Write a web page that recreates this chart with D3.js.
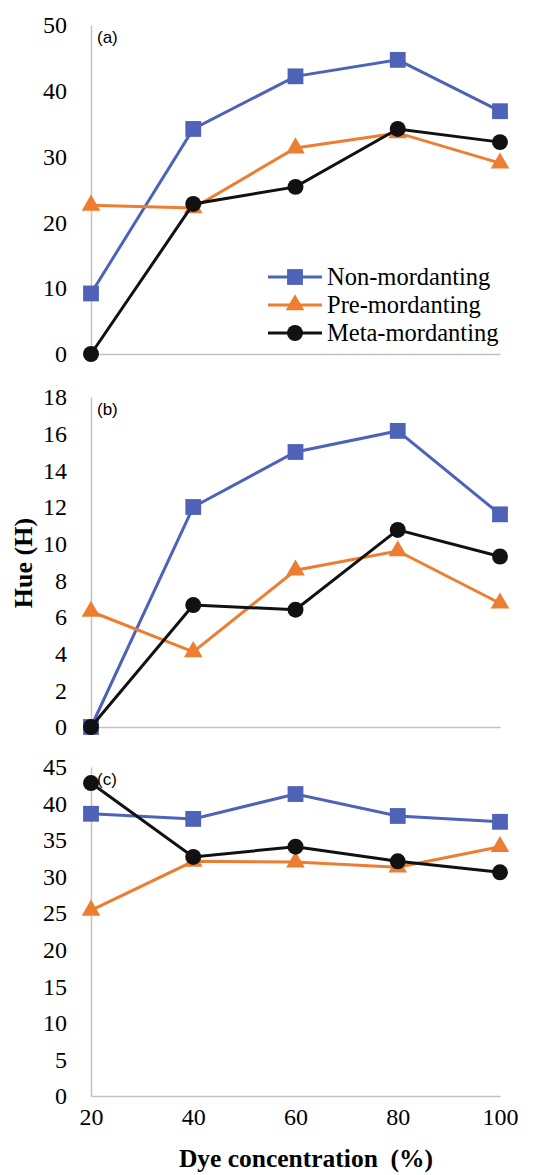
<!DOCTYPE html>
<html>
<head>
<meta charset="utf-8">
<script src="https://cdn.jsdelivr.net/npm/d3@7"></script>
<style>
  html, body { margin: 0; padding: 0; background: #fff; }
</style>
</head>
<body>
<svg id="chart"></svg>
<script>
// x values shared by the three panels
const concentrations = [20, 40, 60, 80, 100];
const seriesNames = ['Non-mordanting', 'Pre-mordanting', 'Meta-mordanting'];

// panel (a)
const nonA = [9.2, 34.2, 42.2, 44.7, 36.9];
const preA = [22.6, 22.2, 31.3, 33.6, 29.0];
const metaA = [0, 22.8, 25.4, 34.2, 32.2];

// panel (b)
const nonB = [0, 12.0, 15.0, 16.15, 11.6];
const preB = [6.3, 4.1, 8.55, 9.6, 6.75];
const metaB = [0, 6.65, 6.4, 10.75, 9.3];

// panel (c)
const nonC = [38.6, 37.9, 41.3, 38.3, 37.5];
const preC = [25.4, 32.1, 32.0, 31.3, 34.1];
const metaC = [42.8, 32.7, 34.1, 32.1, 30.6];

const yTicksA = [0, 10, 20, 30, 40, 50];
const yTicksB = [0, 2, 4, 6, 8, 10, 12, 14, 16, 18];
const yTicksC = [0, 5, 10, 15, 20, 25, 30, 35, 40, 45];

const width = 537;
const height = 1175;
const colors = ['#4e63b8', '#ed7d31', '#111111'];
const symbols = [d3.symbolSquare, d3.symbolTriangle, d3.symbolCircle];
const symbolSizes = [250, 150, 200];
const axisColor = '#c9c0b9';
const serif = 'Liberation Serif';

const svg = d3.select('#chart')
  .attr('width', width)
  .attr('height', height);

const x = d3.scaleLinear()
  .domain([20, 100])
  .range([91, 500]);

const panels = [
  { label: '(a)', series: [nonA, preA, metaA], ticks: yTicksA, max: 50, range: [354, 25] },
  { label: '(b)', series: [nonB, preB, metaB], ticks: yTicksB, max: 18, range: [727, 397] },
  { label: '(c)', series: [nonC, preC, metaC], ticks: yTicksC, max: 45, range: [1096, 767] }
];

const line = (y) => d3.line()
  .x((d, i) => x(concentrations[i]))
  .y(d => y(d));

panels.forEach((p, pi) => {
  const y = d3.scaleLinear()
    .domain([0, p.max])
    .range(p.range);

  const g = svg.append('g');

  // y axis
  const ya = g.append('g')
    .attr('transform', `translate(${x(20)},0)`)
    .call(d3.axisLeft(y).tickValues(p.ticks).tickSize(0).tickPadding(24));
  ya.attr('font-family', null).attr('font-size', null);
  ya.select('.domain').attr('stroke', axisColor).attr('stroke-width', 1.5);
  ya.selectAll('text')
    .style('font-family', serif)
    .style('font-size', '24px')
    .attr('fill', '#000');

  // x axis
  const xa = g.append('g')
    .attr('transform', `translate(0,${y(0)})`)
    .call(d3.axisBottom(x).tickValues(concentrations).tickSize(0).tickPadding(12)
      .tickFormat(pi === 2 ? d3.format('d') : () => ''));
  xa.attr('font-family', null).attr('font-size', null);
  xa.select('.domain').attr('stroke', axisColor).attr('stroke-width', 1.5);
  xa.selectAll('text')
    .style('font-family', serif)
    .style('font-size', '24px')
    .attr('fill', '#000');

  // panel letter
  g.append('text')
    .attr('x', x(20) + 6)
    .attr('y', p.range[1] + 18)
    .style('font-family', 'Liberation Sans, Arial, sans-serif')
    .style('font-size', '17px')
    .attr('fill', '#000')
    .text(p.label);

  p.series.forEach((vals, si) => {
    g.append('path')
      .datum(vals)
      .attr('fill', 'none')
      .attr('stroke', colors[si])
      .attr('stroke-width', 3)
      .attr('d', line(y));

    g.selectAll(`.m${si}`)
      .data(vals)
      .enter().append('path')
      .attr('class', `m${si}`)
      .attr('transform', (d, i) => `translate(${x(concentrations[i])},${y(d)})`)
      .attr('d', d3.symbol().type(symbols[si]).size(symbolSizes[si]))
      .attr('fill', colors[si]);
  });
});

// legend in panel (a)
const legend = svg.append('g').attr('transform', 'translate(268,277)');
seriesNames.forEach((name, i) => {
  const row = legend.append('g').attr('transform', `translate(0,${i * 28})`);
  row.append('line')
    .attr('x1', 0).attr('x2', 54)
    .attr('stroke', colors[i])
    .attr('stroke-width', 3);
  row.append('path')
    .attr('transform', 'translate(27,0)')
    .attr('d', d3.symbol().type(symbols[i]).size(symbolSizes[i]))
    .attr('fill', colors[i]);
  row.append('text')
    .attr('x', 59)
    .attr('y', 8)
    .style('font-family', serif)
    .style('font-size', '24.5px')
    .attr('fill', '#000')
    .text(name);
});

// axis titles
svg.append('text')
  .attr('transform', 'translate(32,563) rotate(-90)')
  .attr('text-anchor', 'middle')
  .style('font-family', serif)
  .style('font-weight', 'bold')
  .style('font-size', '26px')
  .attr('fill', '#000')
  .text('Hue (H)');

svg.append('text')
  .attr('x', 306)
  .attr('y', 1167)
  .attr('text-anchor', 'middle')
  .style('font-family', serif)
  .style('font-weight', 'bold')
  .style('font-size', '25.5px')
  .style('white-space', 'pre')
  .attr('fill', '#000')
  .text('Dye concentration  (%)');
</script>
</body>
</html>
